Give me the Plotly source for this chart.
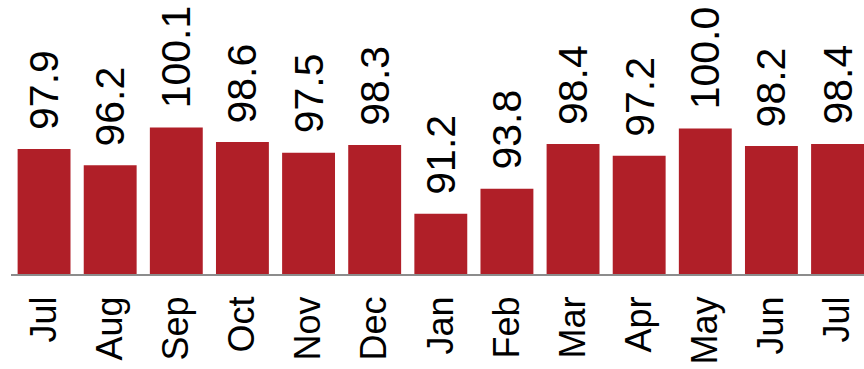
import plotly.graph_objects as go

months = ["Jul", "Aug", "Sep", "Oct", "Nov", "Dec", "Jan", "Feb", "Mar", "Apr", "May", "Jun", "Jul"]
values = [97.9, 96.2, 100.1, 98.6, 97.5, 98.3, 91.2, 93.8, 98.4, 97.2, 100.0, 98.2, 98.4]
positions = list(range(len(months)))

fig = go.Figure()
fig.add_trace(go.Bar(
    x=positions, y=values,
    marker=dict(color="#B01F28", line=dict(width=0)),
    hoverinfo="skip",
))

for xi, v in zip(positions, values):
    fig.add_annotation(
        x=xi, y=v, text=f"{v:.1f}", textangle=-90,
        showarrow=False, yanchor="bottom", xanchor="center",
        yshift=17,
        font=dict(family="Liberation Sans, Arial", size=41, color="#000000"),
    )

fig.update_layout(
    width=864, height=369,
    margin=dict(l=11, r=0, t=0, b=95, autoexpand=False),
    paper_bgcolor="white", plot_bgcolor="white",
    bargap=0.2, showlegend=False,
)
fig.update_xaxes(
    range=[-0.5, 12.4], tickvals=positions, ticktext=months,
    tickangle=-90, showgrid=False, zeroline=False, automargin=False,
    showline=True, linecolor="#8c8c8c", linewidth=2,
    ticks="", ticklabelstandoff=6,
    tickfont=dict(family="Liberation Sans, Arial", size=36, color="#000000"),
)
fig.update_yaxes(range=[85, 113.25], visible=False, showgrid=False, zeroline=False, automargin=False)

fig.write_html("out.html")
